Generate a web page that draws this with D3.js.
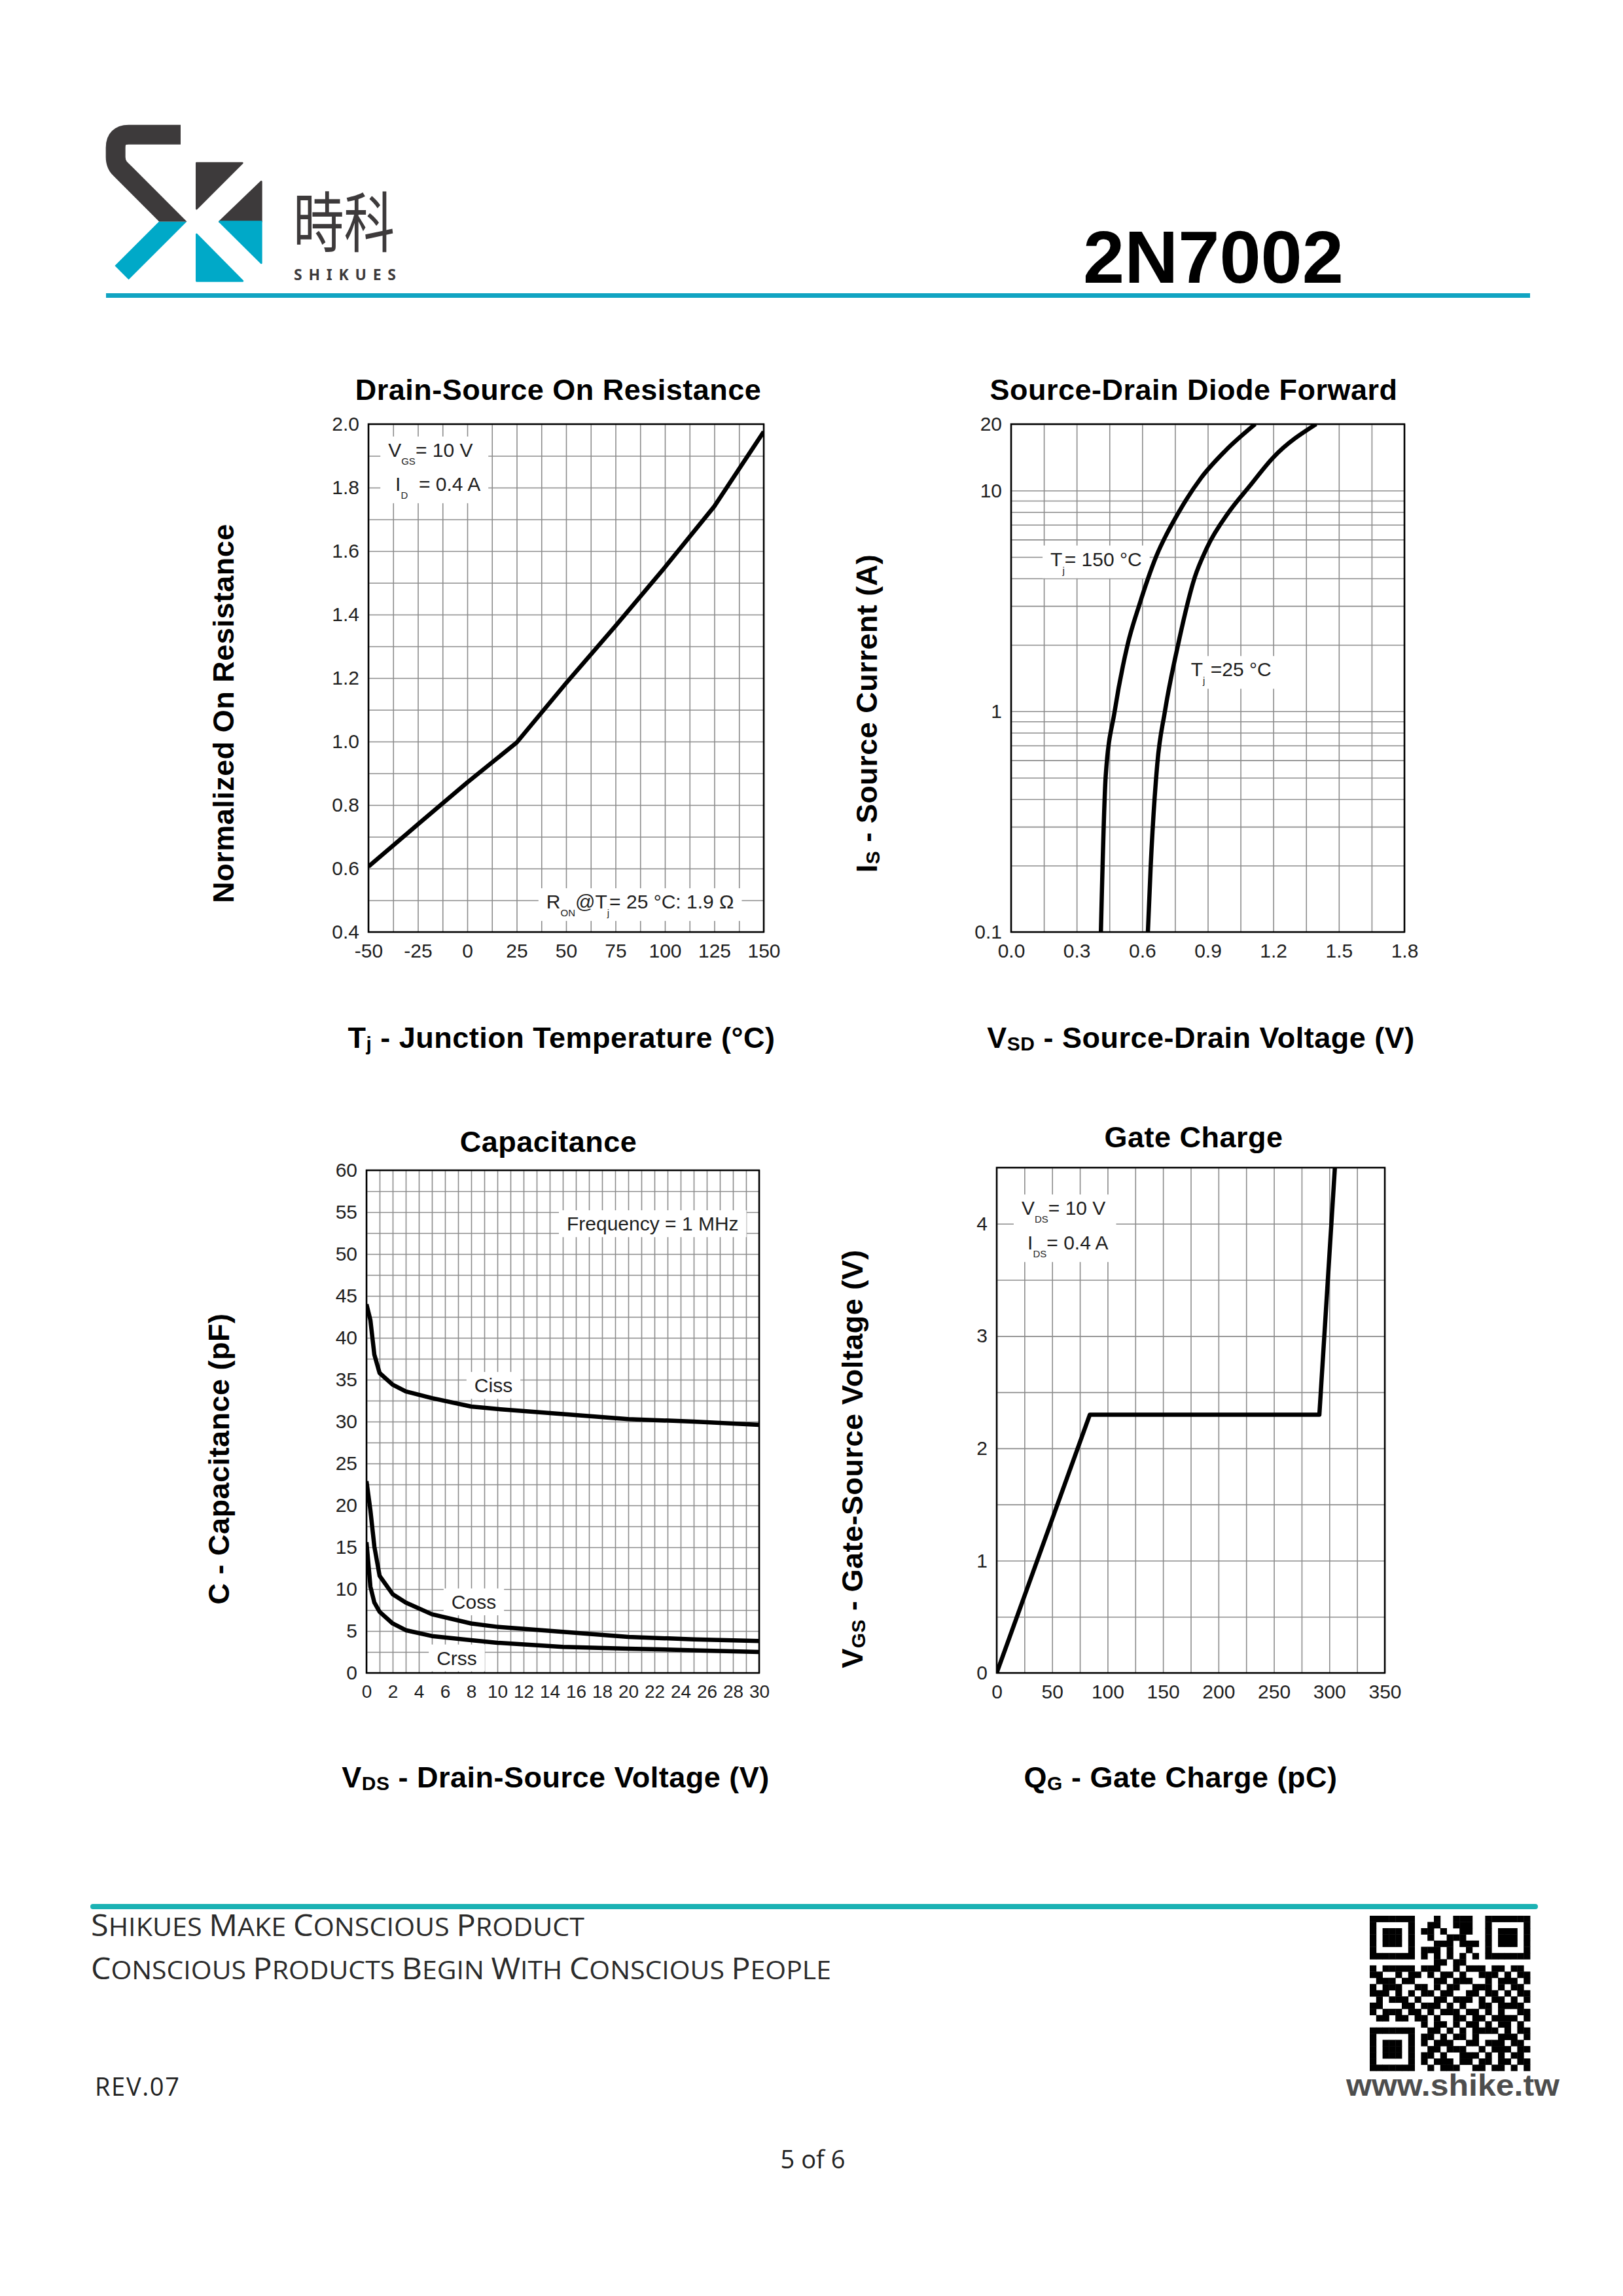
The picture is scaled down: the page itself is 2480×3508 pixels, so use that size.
<!DOCTYPE html>
<html>
<head>
<meta charset="utf-8">
<script src="https://cdnjs.cloudflare.com/ajax/libs/d3/7.8.5/d3.min.js"></script>
<style>
  body { margin: 0; background: #fff; }
  svg { display: block; }
</style>
</head>
<body>
<svg id="page" width="2480" height="3508"></svg>
<script>
var svg = d3.select('#page');
var FONT = "'Liberation Sans', Arial, Helvetica, sans-serif";
var GRID = '#8c8c8c';
var INK = '#1e1e1e';

// ---- data ----
// Drain-Source On Resistance
var rdsTemp = [-50, -25, 0, 25, 50, 75, 100, 125, 150];
var rdsNorm = [0.606, 0.739, 0.871, 0.997, 1.184, 1.364, 1.549, 1.741, 1.976];

// Source-Drain Diode Forward
var vsd150 = [0.411, 0.433, 0.474, 0.533, 0.588, 0.663, 0.768, 0.869, 0.979, 1.117];
var is150  = [0.1, 0.51, 1, 2, 3.06, 5.0, 8.0, 11.4, 15.1, 20];
var vsd25  = [0.626, 0.639, 0.669, 0.704, 0.764, 0.841, 0.896, 0.997, 1.089, 1.199, 1.396];
var is25   = [0.1, 0.2, 0.577, 1, 2, 4.06, 5.5, 8, 10.4, 14.1, 20];

// Capacitance
var vdsCap = [0, 0.3, 0.6, 1, 2, 3, 5, 8, 10, 15, 20, 25, 30];
var ciss   = [44.0, 42.1, 38.0, 35.8, 34.4, 33.6, 32.8, 31.8, 31.5, 30.9, 30.3, 30.0, 29.6];
var coss   = [22.9, 19.4, 15.1, 11.6, 9.4, 8.4, 7.0, 5.9, 5.5, 4.9, 4.3, 4.0, 3.8];
var crss   = [15.6, 10.3, 8.4, 7.3, 5.9, 5.1, 4.4, 3.9, 3.6, 3.1, 2.9, 2.7, 2.5];

// Gate Charge
var qg  = [0, 84, 291, 305];
var vgs = [0, 2.3, 2.3, 4.5];

// tick labels
var rdsXTicks = [-50, -25, 0, 25, 50, 75, 100, 125, 150];
var rdsYTicks = [0.4, 0.6, 0.8, 1.0, 1.2, 1.4, 1.6, 1.8, 2.0];
var vsdXTicks = [0, 0.3, 0.6, 0.9, 1.2, 1.5, 1.8];
var isYTicks  = [0.1, 1, 10, 20];
var capXTicks = d3.range(0, 31, 2);
var capYTicks = d3.range(0, 61, 5);
var qgXTicks  = [0, 50, 100, 150, 200, 250, 300, 350];
var qgYTicks  = [0, 1, 2, 3, 4];

// qr modules (decoration)
var qrRows = [
  "1111111000100111001111111",
  "1000001001100111001000001",
  "1011101011010011001011101",
  "1011101001001110001011101",
  "1011101000111011101011101",
  "1000001011101001001000001",
  "1111111010101010101111111",
  "0000000000110110000000000",
  "1011111011100101110110110",
  "1100101101011010011101011",
  "0111011000110111001011101",
  "1011100110101100111010110",
  "1110101011011001101101011",
  "0101110100110111010110101",
  "1100011011101010011011110",
  "1011101101011101101010011",
  "0110110110100110110111101",
  "0000000010110101101011010",
  "1111111001101010111101011",
  "1000001011010110100011101",
  "1011101010111001101110110",
  "1011101001101110010111011",
  "1011101011010011101010110",
  "1000001010111011011011011",
  "1111111001011100110110101"
];

// writes [text, 'sub'] parts into a text element as tspans
function richText(t, parts, subSize, subShift) {
  var shift = 0;
  parts.forEach(function(p) {
    var sub = p[1] === 'sub';
    var ts = t.append('tspan').text(p[0]);
    var want = sub ? subShift : 0;
    if (want !== shift) { ts.attr('dy', want - shift); shift = want; }
    if (sub) ts.attr('font-size', subSize);
  });
  return t;
}

// hand-made small caps: big initials, smaller upper case for the rest
function smallCaps(t, str, big, small) {
  str.split(' ').forEach(function(word, i) {
    if (i > 0) t.append('tspan').attr('font-size', small).text(' ');
    t.append('tspan').attr('font-size', big).text(word.charAt(0).toUpperCase());
    t.append('tspan').attr('font-size', small).text(word.slice(1).toUpperCase());
  });
  return t;
}

function styleGrid(s) {
  s.select('.domain').remove();
  s.selectAll('line').attr('stroke', GRID).attr('stroke-width', 1.6);
}

function drawChart(c) {
  var g = svg.append('g');
  var b = c.box, w = b.r - b.l, h = b.b - b.t;
  var x = c.x.range([b.l, b.r]);
  var y = c.y.range([b.b, b.t]);

  // grid
  g.append('g').attr('transform', 'translate(0,' + b.b + ')')
    .call(d3.axisBottom(x).tickValues(c.gridX).tickSize(-h).tickFormat(''))
    .call(styleGrid);
  g.append('g').attr('transform', 'translate(' + b.l + ',0)')
    .call(d3.axisLeft(y).tickValues(c.gridY).tickSize(-w).tickFormat(''))
    .call(styleGrid);

  // notes on white patches
  c.notes.forEach(function(grp) {
    var gg = g.append('g');
    var rect = gg.append('rect').attr('fill', '#fff');
    var x0 = Infinity, y0 = Infinity, x1 = -Infinity, y1 = -Infinity;
    grp.forEach(function(n) {
      var t = gg.append('text')
        .attr('x', x(n.x)).attr('y', y(n.y))
        .attr('font-size', 30).attr('font-family', FONT).attr('fill', INK)
        .attr('text-anchor', n.anchor || 'start')
        .style('white-space', 'pre');
      richText(t, n.parts, 15, 12);
      var bb = t.node().getBBox();
      x0 = Math.min(x0, bb.x); y0 = Math.min(y0, bb.y);
      x1 = Math.max(x1, bb.x + bb.width); y1 = Math.max(y1, bb.y + bb.height);
    });
    rect.attr('x', x0 - 12).attr('y', y0 - 4).attr('width', x1 - x0 + 24).attr('height', y1 - y0 + 8);
  });

  // curves
  var clipId = 'clip-' + c.id;
  g.append('clipPath').attr('id', clipId).append('rect')
    .attr('x', b.l).attr('y', b.t).attr('width', w).attr('height', h);
  var line = d3.line().x(function(d) { return x(d[0]); }).y(function(d) { return y(d[1]); })
    .curve(c.curve || d3.curveLinear);
  c.series.forEach(function(s) {
    g.append('path').datum(d3.zip(s[0], s[1]))
      .attr('d', line)
      .attr('fill', 'none').attr('stroke', '#000').attr('stroke-width', 6.5)
      .attr('stroke-linejoin', 'round')
      .attr('clip-path', 'url(#' + clipId + ')');
  });

  // frame
  g.append('rect').attr('x', b.l).attr('y', b.t).attr('width', w).attr('height', h)
    .attr('fill', 'none').attr('stroke', '#000').attr('stroke-width', 2.5);

  // tick labels
  g.append('g').attr('transform', 'translate(0,' + b.b + ')')
    .call(d3.axisBottom(x).tickValues(c.labX).tickSize(0).tickPadding(18).tickFormat(c.fmtX))
    .call(function(s) {
      s.select('.domain').remove();
      s.attr('font-size', c.xFont || 30).attr('font-family', FONT);
      s.selectAll('text').attr('fill', INK);
    });
  g.append('g').attr('transform', 'translate(' + b.l + ',0)')
    .call(d3.axisLeft(y).tickValues(c.labY).tickSize(0).tickPadding(14).tickFormat(c.fmtY))
    .call(function(s) {
      s.select('.domain').remove();
      s.attr('font-size', 30).attr('font-family', FONT);
      s.selectAll('text').attr('fill', INK);
    });

  // title
  svg.append('text').attr('x', c.title[0]).attr('y', c.title[1])
    .attr('text-anchor', 'middle').attr('font-family', FONT).attr('font-weight', 'bold')
    .attr('font-size', 45).style('letter-spacing', '0.5px').text(c.title[2]);

  // axis names
  var xl = svg.append('text').attr('x', c.xl[0]).attr('y', c.xl[1])
    .attr('text-anchor', 'middle').attr('font-family', FONT).attr('font-weight', 'bold')
    .attr('font-size', 45).style('letter-spacing', '0.5px').style('white-space', 'pre');
  richText(xl, c.xl[2], 30, 4);
  var yl = svg.append('text')
    .attr('transform', 'translate(' + c.yl[0] + ',' + c.yl[1] + ') rotate(-90)')
    .attr('text-anchor', 'middle').attr('font-family', FONT).attr('font-weight', 'bold')
    .attr('font-size', 45).style('letter-spacing', '0.5px').style('white-space', 'pre');
  richText(yl, c.yl[2], 30, 4);
}

var plain = function(d) { return String(d); };

drawChart({
  id: 'rds',
  box: { l: 563, t: 648, r: 1167, b: 1424 },
  x: d3.scaleLinear().domain([-50, 150]),
  y: d3.scaleLinear().domain([0.4, 2.0]),
  gridX: d3.range(0, 17).map(function(i) { return -50 + i * 12.5; }),
  gridY: d3.range(0, 17).map(function(i) { return 0.4 + i * 0.1; }),
  labX: rdsXTicks, fmtX: plain,
  labY: rdsYTicks, fmtY: d3.format('.1f'),
  series: [[rdsTemp, rdsNorm]],
  notes: [
    [{ x: -40, y: 1.897, parts: [['V'], ['GS', 'sub'], ['= 10 V']] },
     { x: -36.4, y: 1.79, parts: [['I'], ['D', 'sub'], ['  = 0.4 A']] }],
    [{ x: 40, y: 0.474, parts: [['R'], ['ON', 'sub'], ['@T'], ['j', 'sub'], ['= 25 °C: 1.9 Ω']] }]
  ],
  title: [853, 611, 'Drain-Source On Resistance'],
  xl: [858, 1601, [['T'], ['j', 'sub'], [' - Junction Temperature (°C)']]],
  yl: [357, 1090, [['Normalized On Resistance']]]
});

var isMinor = [];
[0.1, 1, 10].forEach(function(dec) {
  d3.range(1, 10).forEach(function(k) { if (k * dec <= 20) isMinor.push(k * dec); });
});
isMinor.push(20);

drawChart({
  id: 'isd',
  box: { l: 1545, t: 648, r: 2146, b: 1424 },
  x: d3.scaleLinear().domain([0, 1.8]),
  y: d3.scaleLog().domain([0.1, 20]),
  gridX: d3.range(0, 13).map(function(i) { return i * 0.15; }),
  gridY: isMinor,
  labX: vsdXTicks, fmtX: d3.format('.1f'),
  labY: isYTicks, fmtY: plain,
  curve: d3.curveMonotoneX,
  series: [[vsd150, is150], [vsd25, is25]],
  notes: [
    [{ x: 0.18, y: 4.56, parts: [['T'], ['j', 'sub'], ['= 150 °C']] }],
    [{ x: 0.823, y: 1.44, parts: [['T'], ['j', 'sub'], [' =25 °C']] }]
  ],
  title: [1824, 611, 'Source-Drain Diode Forward'],
  xl: [1835, 1601, [['V'], ['SD', 'sub'], [' - Source-Drain Voltage (V)']]],
  yl: [1340, 1090, [['I'], ['S', 'sub'], [' - Source Current (A)']]]
});

drawChart({
  id: 'cap',
  box: { l: 560, t: 1788, r: 1160, b: 2556 },
  x: d3.scaleLinear().domain([0, 30]),
  y: d3.scaleLinear().domain([0, 60]),
  gridX: d3.range(0, 31),
  gridY: d3.range(0, 25).map(function(i) { return i * 2.5; }),
  labX: capXTicks, fmtX: plain, xFont: 28,
  labY: capYTicks, fmtY: plain,
  series: [[vdsCap, ciss], [vdsCap, coss], [vdsCap, crss]],
  notes: [
    [{ x: 15.3, y: 52.8, parts: [['Frequency = 1 MHz']] }],
    [{ x: 9.7, y: 33.5, anchor: 'middle', parts: [['Ciss']] }],
    [{ x: 8.2, y: 7.66, anchor: 'middle', parts: [['Coss']] }],
    [{ x: 6.9, y: 0.97, anchor: 'middle', parts: [['Crss']] }]
  ],
  title: [838, 1760, 'Capacitance'],
  xl: [849, 2731, [['V'], ['DS', 'sub'], [' - Drain-Source Voltage (V)']]],
  yl: [350, 2229, [['C - Capacitance (pF)']]]
});

drawChart({
  id: 'qg',
  box: { l: 1523, t: 1784, r: 2116, b: 2556 },
  x: d3.scaleLinear().domain([0, 350]),
  y: d3.scaleLinear().domain([0, 4.5]),
  gridX: d3.range(0, 351, 25),
  gridY: d3.range(0, 10).map(function(i) { return i * 0.5; }),
  labX: qgXTicks, fmtX: plain,
  labY: qgYTicks, fmtY: plain,
  series: [[qg, vgs]],
  notes: [
    [{ x: 22.4, y: 4.08, parts: [['V'], ['DS', 'sub'], ['= 10 V']] },
     { x: 27.8, y: 3.77, parts: [['I'], ['DS', 'sub'], ['= 0.4 A']] }]
  ],
  title: [1824, 1753, 'Gate Charge'],
  xl: [1804, 2731, [['Q'], ['G', 'sub'], [' - Gate Charge (pC)']]],
  yl: [1318, 2229, [['V'], ['GS', 'sub'], [' - Gate-Source Voltage (V)']]]
});

// ---- header ----
var DARK = '#3d3a3b', CYAN = '#00a9c8';
var defs = svg.append('defs');
defs.append('clipPath').attr('id', 'logoTop').append('rect')
  .attr('x', 0).attr('y', 0).attr('width', 800).attr('height', 476);
defs.append('clipPath').attr('id', 'logoBot').append('rect')
  .attr('x', 0).attr('y', 476).attr('width', 800).attr('height', 400);

var logo = svg.append('g').attr('transform', 'translate(150,180) scale(0.33333)');
var sPath = 'M378,77 H140 Q80,77 80,137 V180 Q80,212.5 100,232.5 L342.75,475.25 L108,710';
logo.append('path').attr('d', sPath).attr('fill', 'none').attr('stroke', DARK)
  .attr('stroke-width', 90).attr('stroke-linejoin', 'miter').attr('clip-path', 'url(#logoTop)');
logo.append('path').attr('d', sPath).attr('fill', 'none').attr('stroke', CYAN)
  .attr('stroke-width', 90).attr('stroke-linejoin', 'miter').attr('clip-path', 'url(#logoBot)');
var tris = [
  { p: [[451, 207], [661, 207], [451, 417]], c: DARK },
  { p: [[748, 292], [748, 476], [556, 476]], c: DARK },
  { p: [[556, 476], [748, 476], [748, 666]], c: CYAN },
  { p: [[451, 534], [451, 748], [663, 748]], c: CYAN }
];
logo.selectAll('polygon').data(tris).enter().append('polygon')
  .attr('points', function(d) { return d.p.join(' '); })
  .attr('fill', function(d) { return d.c; })
  .attr('stroke', function(d) { return d.c; })
  .attr('stroke-width', 8).attr('stroke-linejoin', 'round');

svg.append('text').attr('x', 448).attr('y', 377)
  .attr('font-family', "'Noto Sans CJK SC', 'Noto Sans CJK TC', sans-serif")
  .attr('font-size', 100).attr('fill', DARK)
  .attr('textLength', 155).attr('lengthAdjust', 'spacingAndGlyphs')
  .text('時科');
svg.append('text').attr('x', 449).attr('y', 428)
  .attr('font-family', "'Noto Sans', 'DejaVu Sans', sans-serif").attr('font-weight', 'bold')
  .attr('font-size', 23).attr('fill', DARK)
  .attr('textLength', 156)
  .text('SHIKUES');

svg.append('text').attr('x', 1655).attr('y', 432)
  .attr('font-family', FONT).attr('font-weight', 'bold').attr('font-size', 114)
  .attr('textLength', 398).attr('lengthAdjust', 'spacingAndGlyphs')
  .text('2N7002');

svg.append('rect').attr('x', 162).attr('y', 448).attr('width', 2176).attr('height', 7)
  .attr('fill', '#11a4c2');

// ---- footer ----
svg.append('line').attr('x1', 142).attr('x2', 2346).attr('y1', 2913).attr('y2', 2913)
  .attr('stroke', '#1bb2b4').attr('stroke-width', 8).attr('stroke-linecap', 'round');

var FOOT = "'Open Sans', 'Noto Sans', sans-serif";
smallCaps(svg.append('text').attr('x', 139).attr('y', 2958)
  .attr('font-family', FOOT).attr('fill', '#2a2a2a')
  .attr('textLength', 754).attr('lengthAdjust', 'spacingAndGlyphs'),
  'Shikues Make Conscious Product', 46, 39);
smallCaps(svg.append('text').attr('x', 139).attr('y', 3024)
  .attr('font-family', FOOT).attr('fill', '#2a2a2a')
  .attr('textLength', 1131).attr('lengthAdjust', 'spacingAndGlyphs'),
  'Conscious Products Begin With Conscious People', 46, 39);
svg.append('text').attr('x', 145).attr('y', 3202)
  .attr('font-family', FOOT).attr('font-size', 38).attr('fill', '#222')
  .attr('textLength', 129).text('REV.07');
svg.append('text').attr('x', 1242).attr('y', 3313).attr('text-anchor', 'middle')
  .attr('font-family', FOOT).attr('font-size', 38).attr('fill', '#222')
  .text('5 of 6');
svg.append('text').attr('x', 2057).attr('y', 3202)
  .attr('font-family', FONT).attr('font-weight', 'bold').attr('font-size', 46).attr('fill', '#4d4d4d')
  .attr('textLength', 326).attr('lengthAdjust', 'spacingAndGlyphs')
  .text('www.shike.tw');

var qrX = 2093, qrY = 2927, modW = 245 / 25, modH = 237 / 25;
var cells = [];
qrRows.forEach(function(row, r) {
  row.split('').forEach(function(ch, col) { if (ch === '1') cells.push([col, r]); });
});
svg.append('g').selectAll('rect').data(cells).enter().append('rect')
  .attr('x', function(d) { return qrX + d[0] * modW; })
  .attr('y', function(d) { return qrY + d[1] * modH; })
  .attr('width', modW + 0.4).attr('height', modH + 0.4)
  .attr('fill', '#000');
</script>
</body>
</html>
